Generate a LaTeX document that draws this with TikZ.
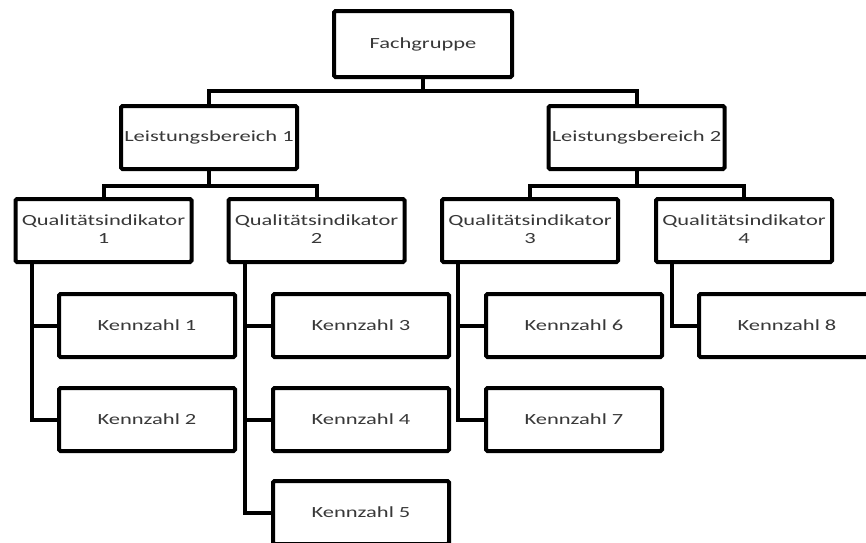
\documentclass[tikz,border=0pt]{standalone}
\usepackage{fontspec}
\setmainfont{Carlito}
\usepackage{graphicx}
\newcommand{\hs}[1]{\scalebox{1.45}[1]{#1}}
\newcommand{\hstwo}[2]{\scalebox{1.45}[1]{\begin{tabular}{@{}c@{}}#1\\#2\end{tabular}}}
\tikzset{
  box/.style={draw=black, line width=4pt, rounded corners=1.5pt, minimum width=176pt, minimum height=63pt,
    inner sep=0pt, text=black!78, font=\fontsize{15.5}{18}\selectfont},
  conn/.style={draw=black, line width=4pt},
}
\begin{document}
\begin{tikzpicture}[x=1pt,y=-1pt]
\useasboundingbox[fill=white] (0,0) rectangle (866,542);
% nodes
\node[box, minimum width=178pt, minimum height=66pt] (fg) at (423,44) {\hs{Fachgruppe}};
\node[box] (lb1) at (209,137.5) {\hs{Leistungsbereich 1}};
\node[box] (lb2) at (636.5,137.5) {\hs{Leistungsbereich 2}};
\node[box] (qi1) at (103.5,230.5) {\hstwo{Qualitätsindikator}{1}};
\node[box] (qi2) at (316.5,230.5) {\hstwo{Qualitätsindikator}{2}};
\node[box] (qi3) at (530,230.5) {\hstwo{Qualitätsindikator}{3}};
\node[box] (qi4) at (744,230.5) {\hstwo{Qualitätsindikator}{4}};
\node[box] (k1) at (147,325.5) {\hs{Kennzahl 1}};
\node[box] (k2) at (147,419.5) {\hs{Kennzahl 2}};
\node[box] (k3) at (361,325.5) {\hs{Kennzahl 3}};
\node[box] (k4) at (361,419.5) {\hs{Kennzahl 4}};
\node[box] (k5) at (361,512.5) {\hs{Kennzahl 5}};
\node[box] (k6) at (574,325.5) {\hs{Kennzahl 6}};
\node[box] (k7) at (574,419.5) {\hs{Kennzahl 7}};
\node[box] (k8) at (787,325.5) {\hs{Kennzahl 8}};
% connectors
\draw[conn] (fg.south) -- ++(0,12) -| (lb1.north);
\draw[conn] (fg.south) -- ++(0,12) -| (lb2.north);
\draw[conn] (lb1.south) -- ++(0,15) -| (qi1.north);
\draw[conn] (lb1.south) -- ++(0,15) -| (qi2.north);
\draw[conn] (lb2.south) -- ++(0,15) -| (qi3.north);
\draw[conn] (lb2.south) -- ++(0,15) -| (qi4.north);
\draw[conn] ([xshift=18pt]qi1.south west) |- (k1.west);
\draw[conn] ([xshift=18pt]qi1.south west) |- (k2.west);
\draw[conn] ([xshift=18pt]qi2.south west) |- (k3.west);
\draw[conn] ([xshift=18pt]qi2.south west) |- (k4.west);
\draw[conn] ([xshift=18pt]qi2.south west) |- (k5.west);
\draw[conn] ([xshift=18pt]qi3.south west) |- (k6.west);
\draw[conn] ([xshift=18pt]qi3.south west) |- (k7.west);
\draw[conn] ([xshift=18pt]qi4.south west) |- (k8.west);
\end{tikzpicture}
\end{document}
